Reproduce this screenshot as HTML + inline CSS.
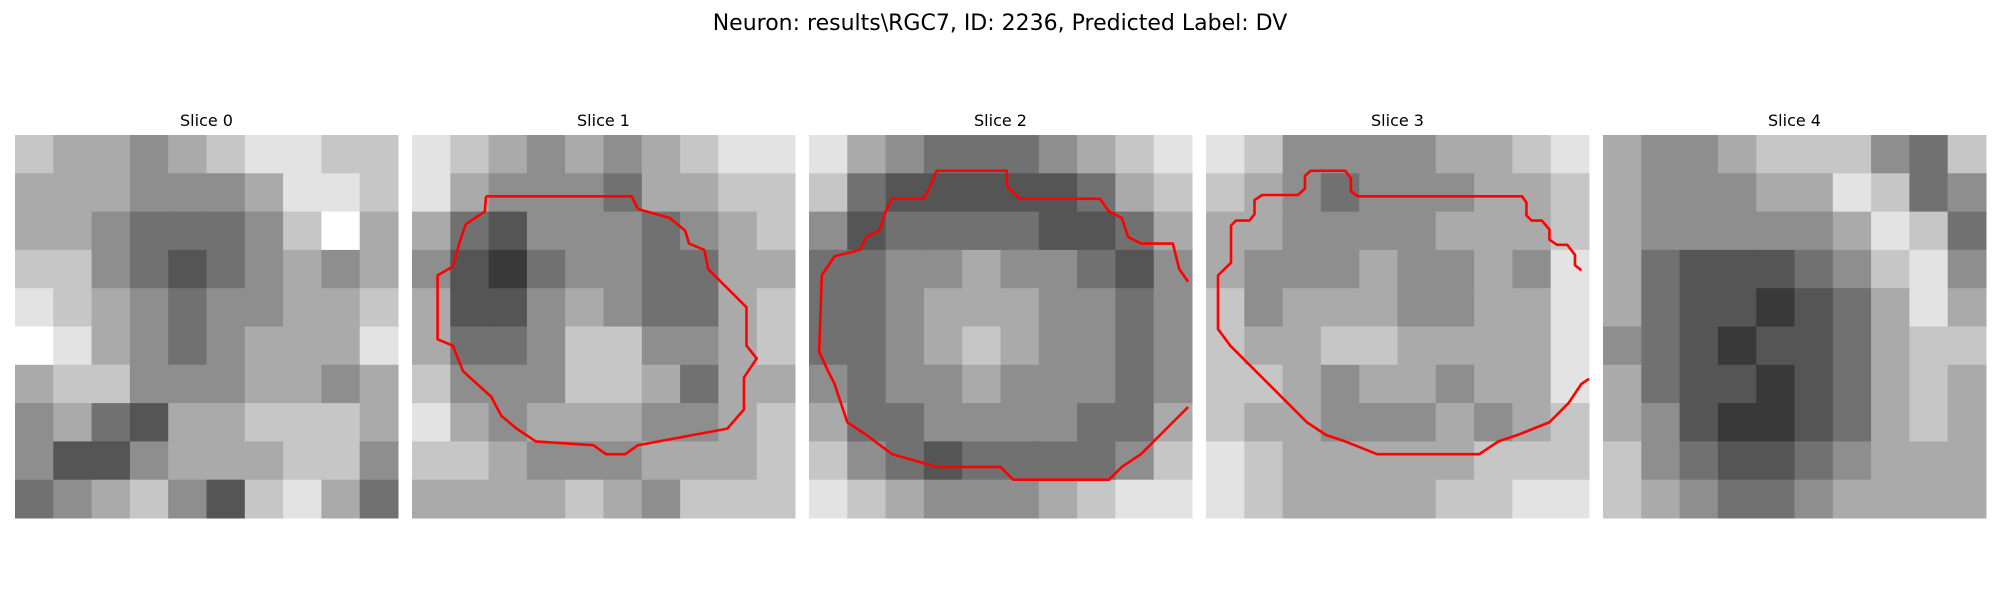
<!DOCTYPE html>
<html><head><meta charset="utf-8"><style>
html,body{margin:0;padding:0;background:#fff;}
svg{display:block;font-family:"DejaVu Sans","Liberation Sans",sans-serif;}
</style></head><body>
<svg id="fig" width="2000" height="600" viewBox="0 0 2000 600" xmlns="http://www.w3.org/2000/svg">
<text x="1000" y="30" text-anchor="middle" font-size="22" fill="#000">Neuron: results\RGC7, ID: 2236, Predicted Label: DV</text>
</svg>
<script>
const sliceTitles=["Slice 0","Slice 1","Slice 2","Slice 3","Slice 4"];
const slice0=[[7,6,6,5,6,7,8,8,7,7],[6,6,6,5,5,5,6,8,8,7],[6,6,5,4,4,4,5,7,9,6],[7,7,5,4,3,4,5,6,5,6],[8,7,6,5,4,5,5,6,6,7],[9,8,6,5,4,5,6,6,6,8],[6,7,7,5,5,5,6,6,5,6],[5,6,4,3,6,6,7,7,7,6],[5,3,3,5,6,6,6,7,7,5],[4,5,6,7,5,3,7,8,6,4]];
const slice1=[[8,7,6,5,6,5,6,7,8,8],[8,6,5,5,5,4,6,6,7,7],[6,4,3,5,5,5,4,5,6,7],[5,3,2,4,5,5,4,4,6,6],[6,3,3,5,6,5,4,4,6,7],[6,4,4,5,7,7,5,5,6,7],[7,5,5,5,7,7,6,4,6,6],[8,6,5,6,6,6,5,5,6,7],[7,7,6,5,5,5,6,6,6,7],[6,6,6,6,7,6,5,7,7,7]];
const slice2=[[8,6,5,4,4,4,5,6,7,8],[7,4,3,3,3,3,3,4,6,7],[5,3,4,4,4,4,3,3,4,6],[4,4,5,5,6,5,5,4,3,5],[4,4,5,6,6,6,5,5,4,5],[4,4,5,6,7,6,5,5,4,5],[5,4,5,5,6,5,5,5,4,5],[6,4,4,5,5,5,5,4,4,6],[7,5,4,3,4,4,4,4,5,7],[8,7,6,5,5,5,6,7,8,8]];
const slice3=[[8,7,5,5,5,5,6,6,7,8],[7,6,5,4,5,5,5,6,6,7],[6,6,5,5,5,5,6,6,6,7],[6,5,5,5,6,5,5,6,5,8],[7,5,6,6,6,5,5,6,6,8],[7,6,6,7,7,6,6,6,6,8],[7,7,6,5,6,6,5,6,6,8],[7,6,6,5,5,5,6,5,6,7],[8,7,6,6,6,6,6,7,7,7],[8,7,6,6,6,6,7,7,8,8]];
const slice4=[[6,5,5,6,7,7,7,5,4,7],[6,5,5,5,6,6,8,7,4,5],[6,5,5,5,5,5,6,8,7,4],[6,4,3,3,3,4,5,7,8,5],[6,4,3,3,2,3,4,6,8,6],[5,4,3,2,3,3,4,6,7,7],[6,4,3,3,2,3,4,6,7,6],[6,5,3,2,2,3,4,6,7,6],[7,5,4,3,3,4,5,6,6,6],[7,6,5,4,4,5,6,6,6,6]];
const contour1=[[58,48],[172,48],[177,58],[202,65],[214,75],[217,85],[229,90],[232,105],[262,135],[262,165],[270,175],[260,190],[260,215],[247,230],[177,243],[167,250],[152,250],[142,243],[97,240],[82,230],[70,220],[62,205],[40,185],[32,165],[20,160],[20,110],[32,103],[37,85],[42,70],[57,60],[58,48]];
const contour2=[[297,213],[290,220],[275,235],[260,250],[245,260],[235,270],[160,270],[150,260],[100,260],[65,250],[45,235],[30,225],[25,210],[20,195],[15,185],[8,170],[10,110],[20,95],[40,90],[45,80],[55,75],[60,60],[65,50],[90,50],[95,40],[100,28],[155,28],[155,40],[165,50],[228,50],[235,60],[245,65],[250,80],[260,85],[285,85],[290,105],[297,115]];
const contour3=[[294,106],[289,102],[289,94],[283,86],[275,86],[269,82],[269,74],[263,67],[255,67],[251,63],[251,53],[247.5,48],[119,48],[113.5,44],[113.5,34],[109,28],[82,28],[77.5,32],[77.5,42],[72,47],[44,47],[38,51],[38,62],[34,67],[23.5,67],[19.6,71],[19.6,100],[9.4,110],[9.4,152],[19,165],[54,200],[79,225],[94,235],[109,240],[134,250],[214,250],[229,240],[244,235],[269,225],[284,210],[294,195],[300,191]];
const slices=[slice0,slice1,slice2,slice3,slice4];
const contours=[null,contour1,contour2,contour3,null];

const NS="http://www.w3.org/2000/svg";
const svg=document.getElementById("fig");
const panelX0=15,panelY0=135,panelSize=383,panelPitch=397;
const s=panelSize/300;
function xScale(i,u){return panelX0+i*panelPitch+u*s;}
function yScale(u){return panelY0+u*s;}
function gray(v){const g=Math.round(v/9*255);return `rgb(${g},${g},${g})`;}

slices.forEach((grid,i)=>{
  const g=document.createElementNS(NS,"g");
  
  
  svg.appendChild(g);
  const t=document.createElementNS(NS,"text");
  
  
  t.setAttribute("x",xScale(i,150));t.setAttribute("y",126);
  t.setAttribute("text-anchor","middle");t.setAttribute("font-size","16");
  t.textContent=sliceTitles[i];g.appendChild(t);
  const n=grid.length,cw=300/n;
  grid.forEach((row,r)=>row.forEach((v,c)=>{
    const rc=document.createElementNS(NS,"rect");
    
    
    const x0=xScale(i,c*cw),x1=xScale(i,(c+1)*cw),y0=yScale(r*cw),y1=yScale((r+1)*cw);
    rc.setAttribute("x",x0);rc.setAttribute("y",y0);
    rc.setAttribute("width",x1-x0+0.5);rc.setAttribute("height",y1-y0+0.5);
    rc.setAttribute("fill",gray(v));g.appendChild(rc);
  }));
  const cpts=contours[i];
  if(cpts){
    const p=document.createElementNS(NS,"polyline");
    
    
    p.setAttribute("points",cpts.map(q=>xScale(i,q[0])+","+yScale(q[1])).join(" "));
    p.setAttribute("fill","none");p.setAttribute("stroke","#ff0000");
    p.setAttribute("stroke-width","2.6");p.setAttribute("stroke-linejoin","round");
    g.appendChild(p);
  }
});
</script>
</body></html>
